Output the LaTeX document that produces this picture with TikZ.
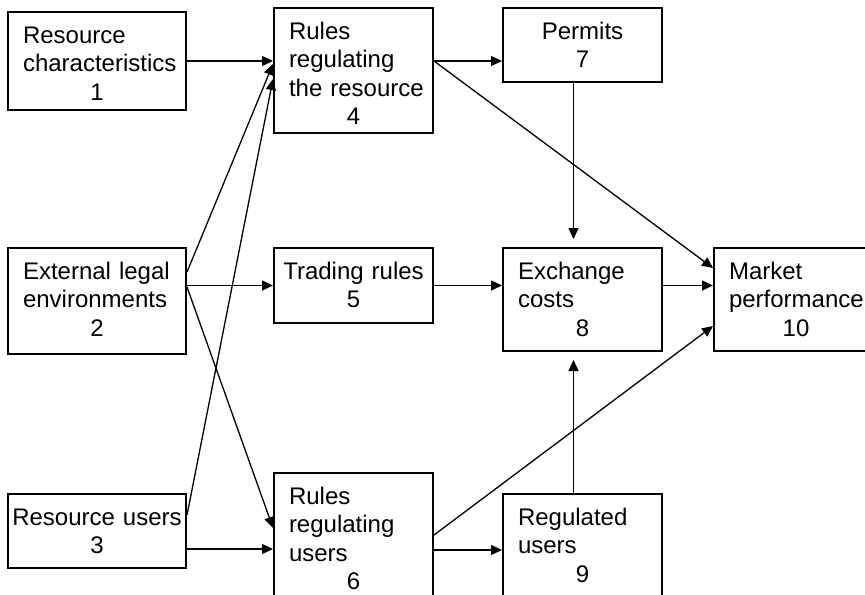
\documentclass[tikz,border=0pt]{standalone}
\usepackage{fontspec}
\setmainfont{Liberation Sans}
\usetikzlibrary{arrows.meta,calc}
\hyphenpenalty=10000
\newcommand{\boxnum}[1]{\makebox[\hsize]{#1}}
\tikzstyle{box}=[draw,line width=1pt,anchor=north west,inner xsep=7.5pt,inner ysep=0pt,align=left,text height=15.5pt,font=\fontsize{12pt}{14.25pt}\selectfont]
\tikzstyle{arr}=[-{Triangle[length=5.5pt,width=5pt]},line width=0.65pt]

\begin{document}
\begin{tikzpicture}[x=0.5pt,y=-0.5pt]
\useasboundingbox (0,0) rectangle (865,594);
\clip (0,0) rectangle (865,594);

\node[box,text width=74pt,text depth=33.5pt] (RC) at (7,11) {Resource\\characteristics\\\boxnum{1}};
\node[box,text width=64.5pt,text depth=47pt] (RR) at (273,7) {Rules\\regulating\\the~resource\\\boxnum{4}};
\node[box,text width=64.5pt,text depth=21.5pt] (PER) at (502,7) {\boxnum{Permits}\\\boxnum{7}};
\node[box,text width=74pt,text depth=37.5pt] (ELE) at (7,247) {External legal\\environments\\\boxnum{2}};
\node[box,text width=64.5pt,text depth=22pt] (TR) at (273,247) {\boxnum{Trading rules}\\\boxnum{5}};
\node[box,text width=64.5pt,text depth=36pt] (EC) at (502,247) {Exchange\\costs\\\boxnum{8}};
\node[box,text width=67pt,text depth=36pt] (MP) at (713,247) {Market\\performance\\\boxnum{10}};
\node[box,text width=74pt,text depth=21.5pt] (RU) at (7,493) {\boxnum{Resource users}\\\boxnum{3}};
\node[box,text width=64.5pt,text depth=58.5pt] (RRU) at (273,472) {Rules\\regulating\\users\\\boxnum{6}};
\node[box,text width=64.5pt,text depth=50pt] (REG) at (502,493) {Regulated\\users\\\boxnum{9}};

\draw[arr] (RC.east) -- (RC.east -| RR.west);
\draw[arr] ($(ELE.north east)+(0,25)$) -- ($(RR.north west)+(0,57)$);
\draw[arr] ($(RU.north east)+(0,22)$) -- ($(RR.north west)+(0,72)$);

\draw[arr] ($(RR.north east)+(0,54)$) coordinate (RRout) -- (RRout -| PER.west);
\draw[arr] (RRout) -- ($(MP.north west)+(0,21)$);
\draw[arr,shorten >=4pt] ($(PER.south)+(-9,0)$) coordinate (PERout) -- (PERout |- EC.north);

\draw[arr] (TR.west -| ELE.east) -- (TR.west);
\draw[arr] (TR.east) -- (TR.east -| EC.west);
\draw[arr] (TR.east -| EC.east) -- (TR.east -| MP.west);
\draw[arr] ($(ELE.north east)+(0,40)$) -- ($(RRU.north west)+(0,56)$);

\draw[arr] ($(RU.north east)+(0,56)$) coordinate (RUout) -- (RUout -| RRU.west);
\draw[arr] ($(RRU.north east)+(0,78)$) coordinate (RRUout) -- (RRUout -| REG.west);
\draw[arr] ($(RRU.north east)+(0,63)$) -- ($(MP.north west)+(0,79)$);
\draw[arr,shorten >=4pt] ($(REG.north)+(-9,0)$) coordinate (REGout) -- (REGout |- EC.south);
\end{tikzpicture}
\end{document}
